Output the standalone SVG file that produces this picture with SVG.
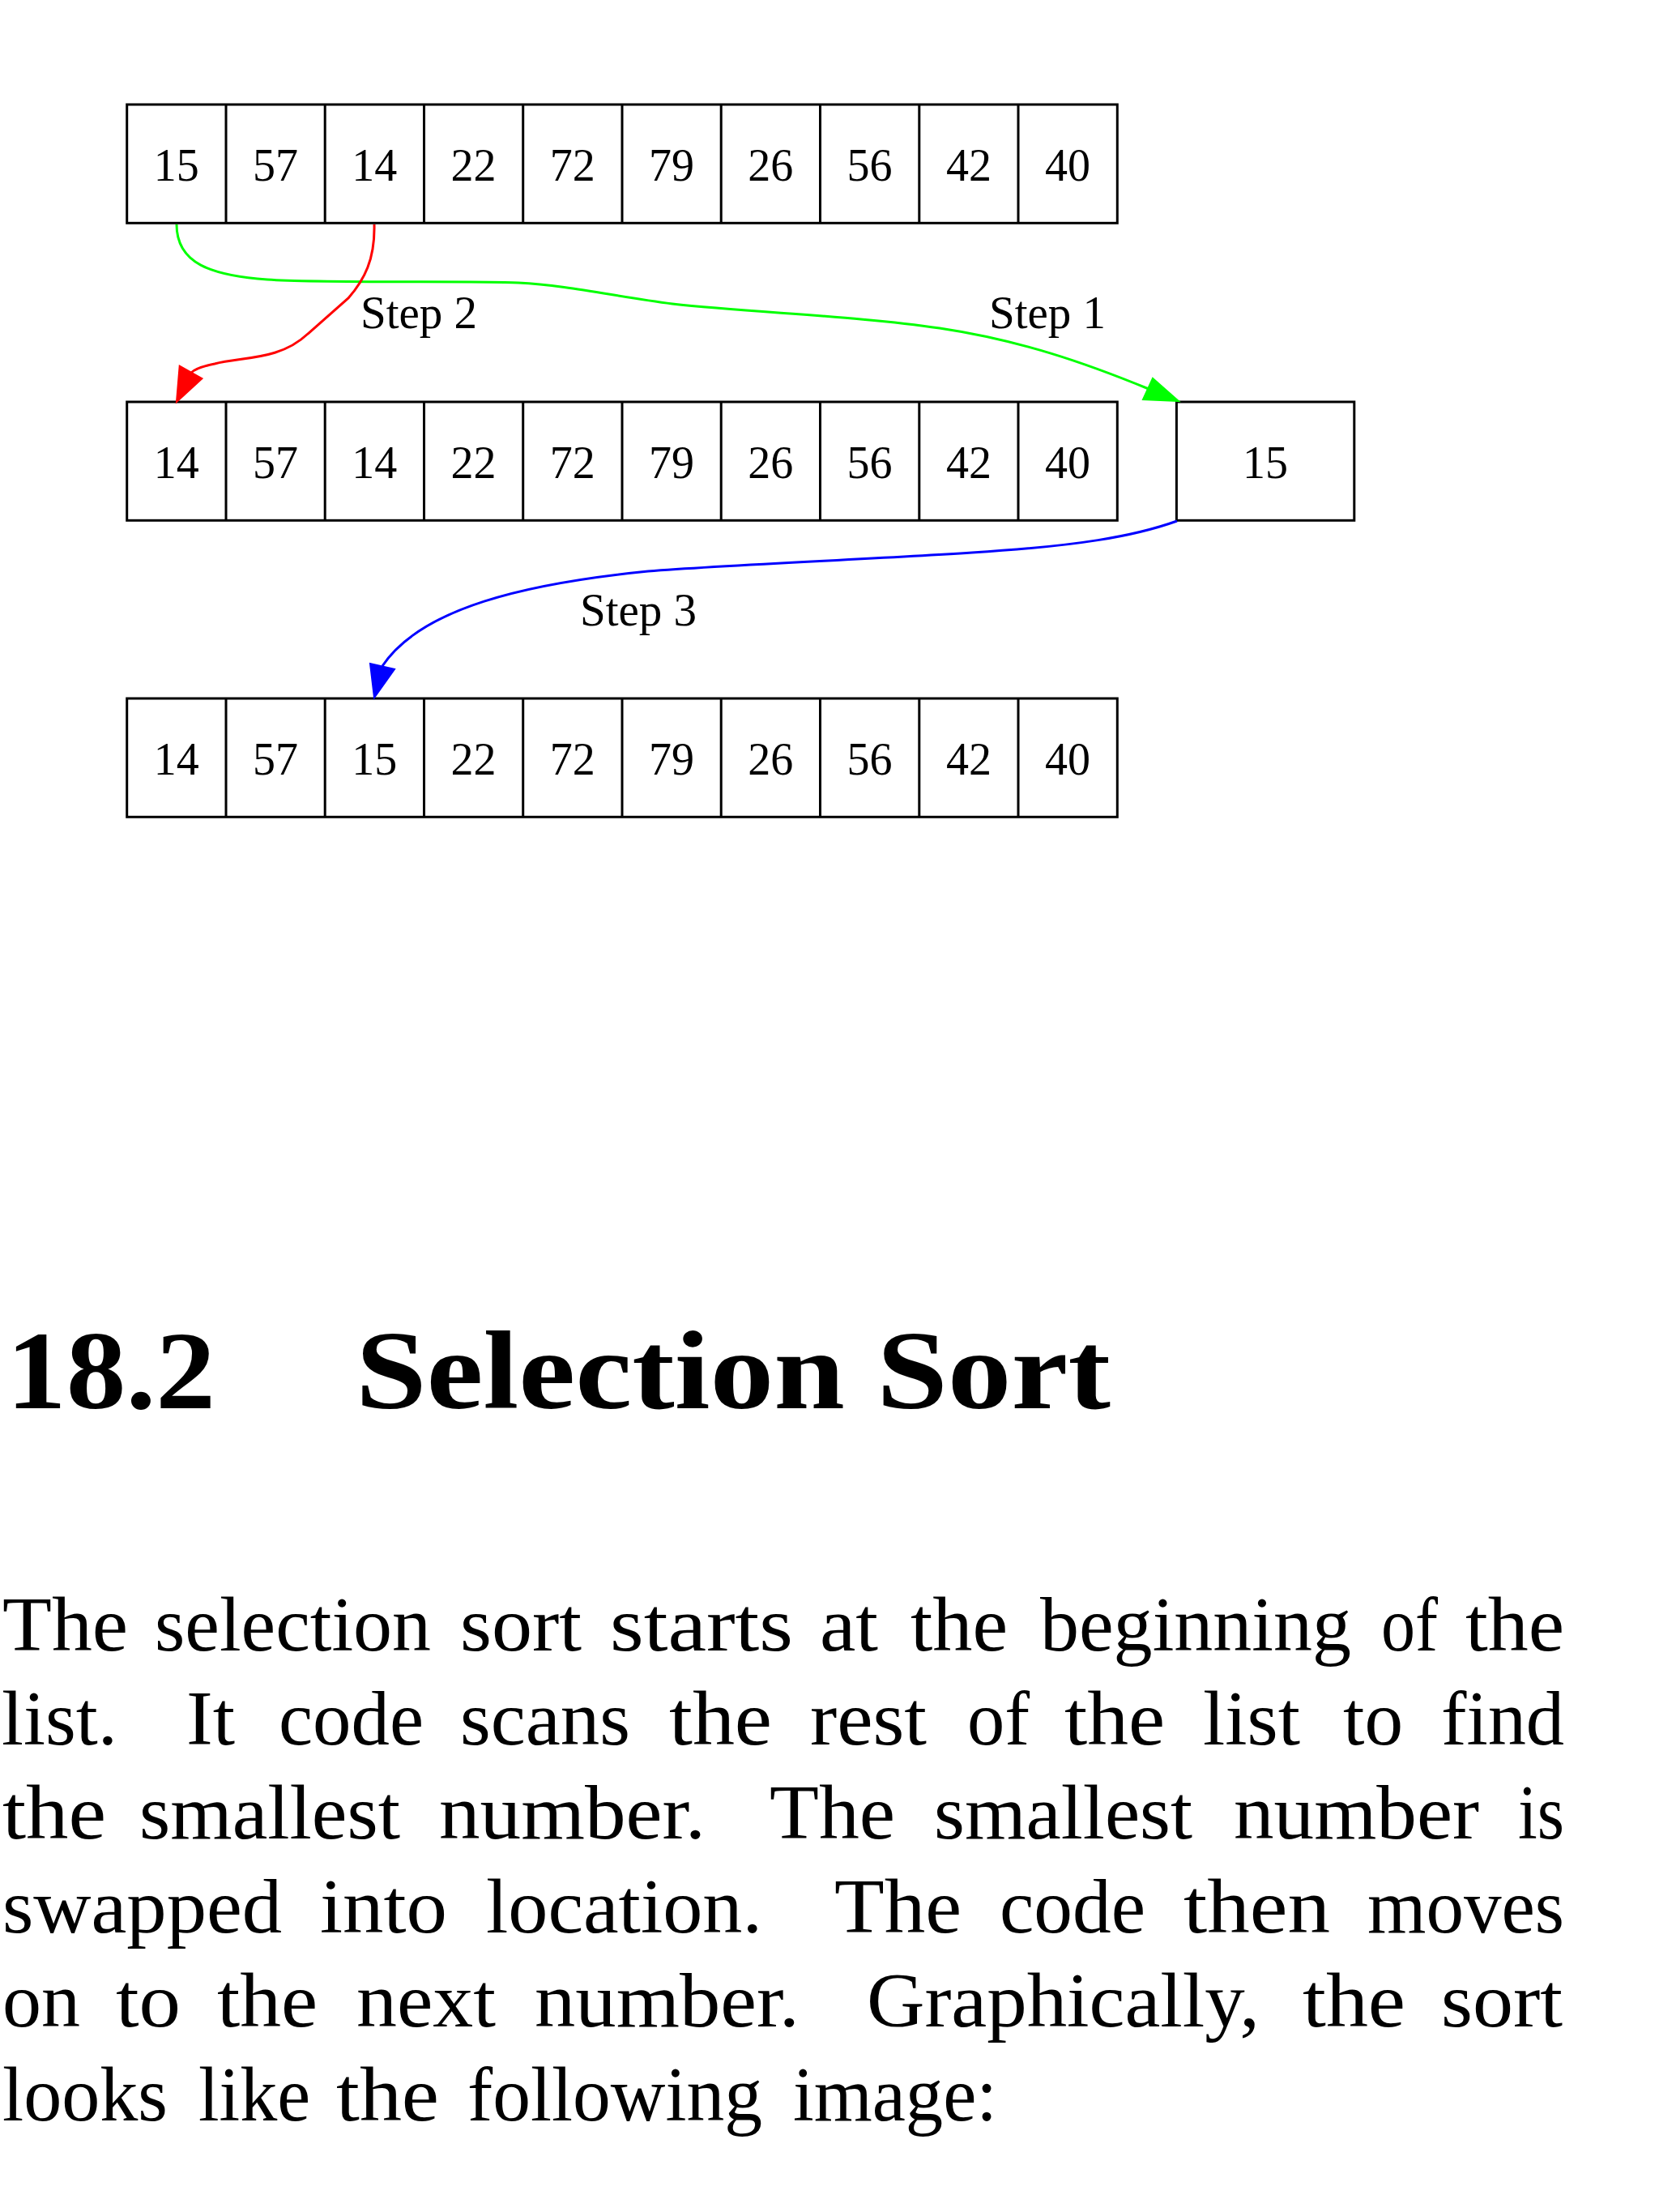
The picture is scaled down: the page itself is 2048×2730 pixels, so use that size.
<svg xmlns="http://www.w3.org/2000/svg" width="2048" height="2730" viewBox="0 0 2048 2730">
<style>
.box{fill:none;stroke:#000;stroke-width:3}
.div{stroke:#000;stroke-width:3}
.num{font-family:"Liberation Serif","Times New Roman",serif;font-size:56px;text-anchor:middle;fill:#000}
.lbl{font-family:"Liberation Serif","Times New Roman",serif;font-size:57px;fill:#000}
.edge{fill:none;stroke-width:3}
.body{font-family:"Liberation Serif","Times New Roman",serif;font-size:96px;fill:#000}
.head{font-family:"Liberation Serif","Times New Roman",serif;font-size:138px;font-weight:bold;fill:#000}
</style>
<rect width="2048" height="2730" fill="#fff"/>
<g id="row1">
<rect class="box" x="156.7" y="129" width="1222.6" height="146.3"/>
<path class="div" d="M279,129V275.3M401.2,129V275.3M523.5,129V275.3M645.7,129V275.3M768,129V275.3M890.2,129V275.3M1012.5,129V275.3M1134.8,129V275.3M1257,129V275.3"/>
<text class="num" y="222.5"><tspan x="217.8">15</tspan><tspan x="340.1">57</tspan><tspan x="462.3">14</tspan><tspan x="584.6">22</tspan><tspan x="706.8">72</tspan><tspan x="829.1">79</tspan><tspan x="951.3">26</tspan><tspan x="1073.6">56</tspan><tspan x="1195.9">42</tspan><tspan x="1318.1">40</tspan></text>
</g>
<g id="row2">
<rect class="box" x="156.7" y="496" width="1222.6" height="146.3"/>
<path class="div" d="M279,496V642.3M401.2,496V642.3M523.5,496V642.3M645.7,496V642.3M768,496V642.3M890.2,496V642.3M1012.5,496V642.3M1134.8,496V642.3M1257,496V642.3"/>
<text class="num" y="589.5"><tspan x="217.8">14</tspan><tspan x="340.1">57</tspan><tspan x="462.3">14</tspan><tspan x="584.6">22</tspan><tspan x="706.8">72</tspan><tspan x="829.1">79</tspan><tspan x="951.3">26</tspan><tspan x="1073.6">56</tspan><tspan x="1195.9">42</tspan><tspan x="1318.1">40</tspan></text>
</g>
<g id="temp">
<rect class="box" x="1452.4" y="496" width="219.4" height="146.3"/>
<text class="num" x="1562" y="589.5">15</text>
</g>
<g id="row3">
<rect class="box" x="156.7" y="862" width="1222.6" height="146.3"/>
<path class="div" d="M279,862V1008.3M401.2,862V1008.3M523.5,862V1008.3M645.7,862V1008.3M768,862V1008.3M890.2,862V1008.3M1012.5,862V1008.3M1134.8,862V1008.3M1257,862V1008.3"/>
<text class="num" y="955.5"><tspan x="217.8">14</tspan><tspan x="340.1">57</tspan><tspan x="462.3">15</tspan><tspan x="584.6">22</tspan><tspan x="706.8">72</tspan><tspan x="829.1">79</tspan><tspan x="951.3">26</tspan><tspan x="1073.6">56</tspan><tspan x="1195.9">42</tspan><tspan x="1318.1">40</tspan></text>
</g>
<g id="edges">
<path class="edge" stroke="#00ff00" d="M218,277 C218,325 260,340 330,345 C400,350 580,346 640,349 C700,352 760,366 830,375 C930,386 1060,390 1160,405 C1260,420 1340,448 1418,480"/>
<polygon fill="#00ff00" stroke="#00ff00" stroke-width="2" points="1455,495 1411,493 1423,467"/>
<text class="lbl" x="1221" y="405">Step 1</text>
<path class="edge" stroke="#ff0000" d="M462,277 C463,320 450,345 430,368 L380,412 C345,445 300,440 265,449 C250,452 240,456 236,460"/>
<polygon fill="#ff0000" stroke="#ff0000" stroke-width="2" points="218,496 221.7,451.7 249.4,467.3"/>
<text class="lbl" x="445" y="405">Step 2</text>
<path class="edge" stroke="#0000ff" d="M1453,643 C1400,662 1330,674 1200,682 C1080,690 900,697 800,705 C650,720 520,750 472,822"/>
<polygon fill="#0000ff" stroke="#0000ff" stroke-width="2" points="462,861 457,819 487,826"/>
<text class="lbl" x="716" y="772">Step 3</text>
</g>
<text class="head" x="8" y="1738" textLength="258" lengthAdjust="spacingAndGlyphs">18.2</text>
<text class="head" x="439" y="1738" textLength="932" lengthAdjust="spacingAndGlyphs">Selection Sort</text>
<g id="para">
<text class="body" y="2037" x="3" textLength="155" lengthAdjust="spacingAndGlyphs">The</text>
<text class="body" y="2037" x="191" textLength="341" lengthAdjust="spacingAndGlyphs">selection</text>
<text class="body" y="2037" x="568" textLength="150" lengthAdjust="spacingAndGlyphs">sort</text>
<text class="body" y="2037" x="753" textLength="226" lengthAdjust="spacingAndGlyphs">starts</text>
<text class="body" y="2037" x="1012" textLength="72" lengthAdjust="spacingAndGlyphs">at</text>
<text class="body" y="2037" x="1124" textLength="120" lengthAdjust="spacingAndGlyphs">the</text>
<text class="body" y="2037" x="1284" textLength="384" lengthAdjust="spacingAndGlyphs">beginning</text>
<text class="body" y="2037" x="1705" textLength="70" lengthAdjust="spacingAndGlyphs">of</text>
<text class="body" y="2037" x="1809" textLength="122" lengthAdjust="spacingAndGlyphs">the</text>

<text class="body" y="2153" x="2" textLength="143" lengthAdjust="spacingAndGlyphs">list.</text>
<text class="body" y="2153" x="230" textLength="60" lengthAdjust="spacingAndGlyphs">It</text>
<text class="body" y="2153" x="344" textLength="179" lengthAdjust="spacingAndGlyphs">code</text>
<text class="body" y="2153" x="568" textLength="210" lengthAdjust="spacingAndGlyphs">scans</text>
<text class="body" y="2153" x="826" textLength="127" lengthAdjust="spacingAndGlyphs">the</text>
<text class="body" y="2153" x="1000" textLength="144" lengthAdjust="spacingAndGlyphs">rest</text>
<text class="body" y="2153" x="1194" textLength="77" lengthAdjust="spacingAndGlyphs">of</text>
<text class="body" y="2153" x="1314" textLength="124" lengthAdjust="spacingAndGlyphs">the</text>
<text class="body" y="2153" x="1485" textLength="120" lengthAdjust="spacingAndGlyphs">list</text>
<text class="body" y="2153" x="1658" textLength="74" lengthAdjust="spacingAndGlyphs">to</text>
<text class="body" y="2153" x="1779" textLength="152" lengthAdjust="spacingAndGlyphs">find</text>

<text class="body" y="2269" x="3" textLength="128" lengthAdjust="spacingAndGlyphs">the</text>
<text class="body" y="2269" x="172" textLength="322" lengthAdjust="spacingAndGlyphs">smallest</text>
<text class="body" y="2269" x="542" textLength="329" lengthAdjust="spacingAndGlyphs">number.</text>
<text class="body" y="2269" x="950" textLength="155" lengthAdjust="spacingAndGlyphs">The</text>
<text class="body" y="2269" x="1153" textLength="319" lengthAdjust="spacingAndGlyphs">smallest</text>
<text class="body" y="2269" x="1523" textLength="303" lengthAdjust="spacingAndGlyphs">number</text>
<text class="body" y="2269" x="1874" textLength="57" lengthAdjust="spacingAndGlyphs">is</text>

<text class="body" y="2385" x="3" textLength="345" lengthAdjust="spacingAndGlyphs">swapped</text>
<text class="body" y="2385" x="395" textLength="157" lengthAdjust="spacingAndGlyphs">into</text>
<text class="body" y="2385" x="600" textLength="341" lengthAdjust="spacingAndGlyphs">location.</text>
<text class="body" y="2385" x="1030" textLength="157" lengthAdjust="spacingAndGlyphs">The</text>
<text class="body" y="2385" x="1234" textLength="180" lengthAdjust="spacingAndGlyphs">code</text>
<text class="body" y="2385" x="1461" textLength="181" lengthAdjust="spacingAndGlyphs">then</text>
<text class="body" y="2385" x="1688" textLength="243" lengthAdjust="spacingAndGlyphs">moves</text>

<text class="body" y="2501" x="3" textLength="96" lengthAdjust="spacingAndGlyphs">on</text>
<text class="body" y="2501" x="143" textLength="80" lengthAdjust="spacingAndGlyphs">to</text>
<text class="body" y="2501" x="268" textLength="124" lengthAdjust="spacingAndGlyphs">the</text>
<text class="body" y="2501" x="440" textLength="172" lengthAdjust="spacingAndGlyphs">next</text>
<text class="body" y="2501" x="660" textLength="327" lengthAdjust="spacingAndGlyphs">number.</text>
<text class="body" y="2501" x="1070" textLength="485" lengthAdjust="spacingAndGlyphs">Graphically,</text>
<text class="body" y="2501" x="1608" textLength="127" lengthAdjust="spacingAndGlyphs">the</text>
<text class="body" y="2501" x="1779" textLength="150" lengthAdjust="spacingAndGlyphs">sort</text>

<text class="body" y="2617" x="3" textLength="204" lengthAdjust="spacingAndGlyphs">looks</text>
<text class="body" y="2617" x="245" textLength="138" lengthAdjust="spacingAndGlyphs">like</text>
<text class="body" y="2617" x="415" textLength="127" lengthAdjust="spacingAndGlyphs">the</text>
<text class="body" y="2617" x="577" textLength="364" lengthAdjust="spacingAndGlyphs">following</text>
<text class="body" y="2617" x="979" textLength="252" lengthAdjust="spacingAndGlyphs">image:</text>
</g>
</svg>
